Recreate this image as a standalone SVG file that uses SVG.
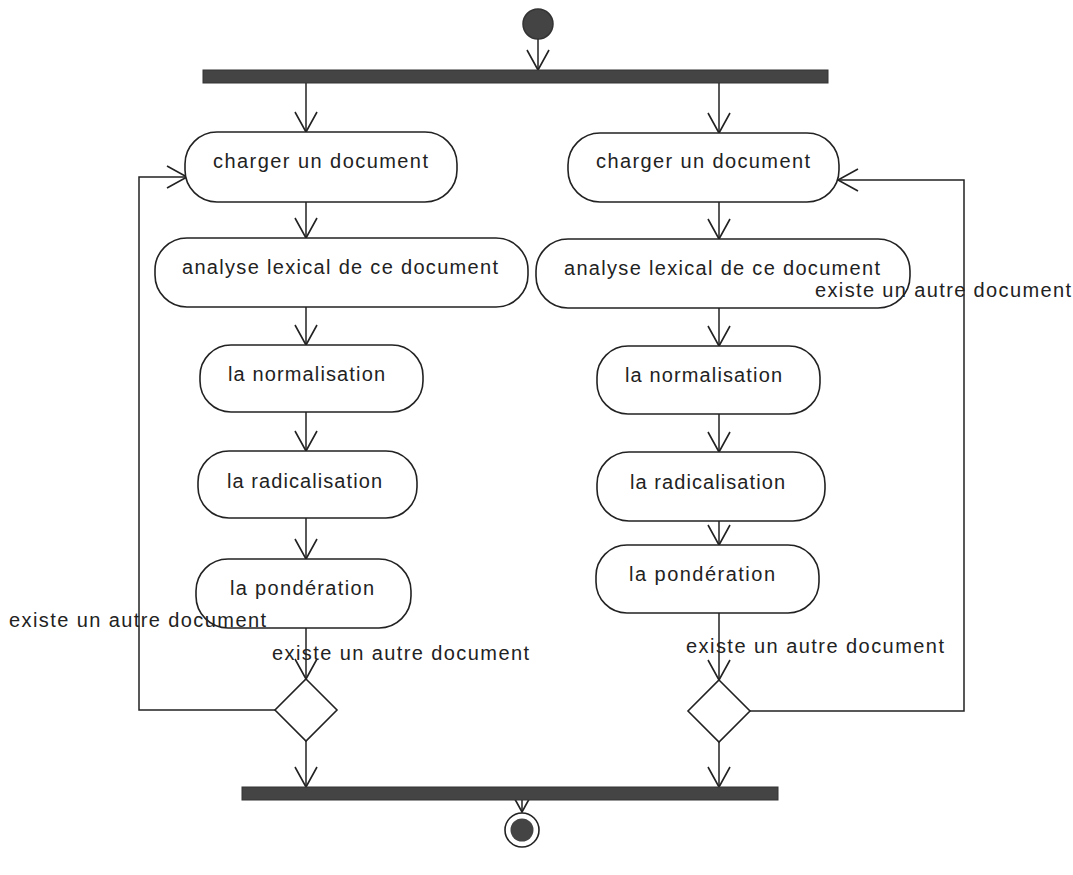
<svg xmlns="http://www.w3.org/2000/svg" width="1073" height="875" viewBox="0 0 1073 875">
<style>
.node{fill:#fff;stroke:#222;stroke-width:1.6}
.bar{fill:#444;stroke:#333;stroke-width:1}
.t{font-family:"Liberation Sans",Arial,sans-serif;font-size:20px;fill:#222}
.c{fill:none;stroke:#222;stroke-width:1.5}
.ca{fill:none;stroke:#222;stroke-width:1.5;marker-end:url(#arr)}
</style>
<defs>
<marker id="arr" viewBox="-24 -14 26 28" refX="0" refY="0" markerWidth="26" markerHeight="28" markerUnits="userSpaceOnUse" orient="auto" overflow="visible">
<path d="M-20,-11 L0,0 L-20,11" fill="none" stroke="#222" stroke-width="1.6"/>
</marker>
</defs>
<rect width="1073" height="875" fill="#fff"/>

<g id="connectors">
<path class="ca" d="M538,39 V70"/>
<path class="ca" d="M306,83 V132"/>
<path class="ca" d="M719,83 V133"/>
<path class="ca" d="M306,202 V238"/>
<path class="ca" d="M306,307 V345"/>
<path class="ca" d="M306,412 V451"/>
<path class="ca" d="M306,518 V559"/>
<path class="ca" d="M306,628 V679"/>
<path class="ca" d="M275,710 H139 V177 H187"/>
<path class="ca" d="M306,741 V787"/>
<path class="ca" d="M719,202 V239"/>
<path class="ca" d="M719,308 V346"/>
<path class="ca" d="M719,414 V452"/>
<path class="ca" d="M719,521 V545"/>
<path class="ca" d="M719,613 V680"/>
<path class="ca" d="M750,711 H964 V180 H838"/>
<path class="ca" d="M719,742 V787"/>
<path class="ca" d="M522,800 V812"/>
</g>

<g id="start"><circle cx="538" cy="24" r="15" fill="#444" stroke="#333" stroke-width="1.5"/></g>
<g id="fork"><rect class="bar" x="203" y="70" width="625" height="13"/></g>
<g id="join"><rect class="bar" x="242" y="787" width="536" height="13"/></g>
<g id="end"><circle cx="522" cy="830" r="17" fill="#fff" stroke="#222" stroke-width="1.6"/><circle cx="522" cy="830" r="11.5" fill="#444"/></g>

<g id="L1"><rect class="node" x="185" y="132" width="272" height="70" rx="32" ry="32"/><text class="t" x="213" y="168" textLength="215" lengthAdjust="spacing">charger un document</text></g>
<g id="L2"><rect class="node" x="155" y="238" width="373" height="69" rx="32" ry="32"/><text class="t" x="182" y="274" textLength="316" lengthAdjust="spacing">analyse lexical de ce document</text></g>
<g id="L3"><rect class="node" x="200" y="345" width="223" height="67" rx="31" ry="31"/><text class="t" x="228" y="381" textLength="157" lengthAdjust="spacing">la normalisation</text></g>
<g id="L4"><rect class="node" x="198" y="451" width="219" height="67" rx="31" ry="31"/><text class="t" x="227" y="488" textLength="155" lengthAdjust="spacing">la radicalisation</text></g>
<g id="L5"><rect class="node" x="196" y="559" width="215" height="69" rx="32" ry="32"/><text class="t" x="230" y="595" textLength="144" lengthAdjust="spacing">la pondération</text></g>
<g id="DL"><polygon class="node" points="306,679 337,710 306,741 275,710"/></g>

<g id="R1"><rect class="node" x="568" y="133" width="271" height="69" rx="32" ry="32"/><text class="t" x="596" y="168" textLength="214" lengthAdjust="spacing">charger un document</text></g>
<g id="R2"><rect class="node" x="536" y="239" width="374" height="69" rx="32" ry="32"/><text class="t" x="564" y="275" textLength="316" lengthAdjust="spacing">analyse lexical de ce document</text></g>
<g id="R3"><rect class="node" x="597" y="346" width="223" height="68" rx="31" ry="31"/><text class="t" x="625" y="382" textLength="157" lengthAdjust="spacing">la normalisation</text></g>
<g id="R4"><rect class="node" x="597" y="452" width="228" height="69" rx="32" ry="32"/><text class="t" x="630" y="489" textLength="155" lengthAdjust="spacing">la radicalisation</text></g>
<g id="R5"><rect class="node" x="596" y="545" width="223" height="68" rx="31" ry="31"/><text class="t" x="629" y="581" textLength="146" lengthAdjust="spacing">la pondération</text></g>
<g id="DR"><polygon class="node" points="719,680 750,711 719,742 688,711"/></g>

<g id="labels">
<text class="t" x="9" y="627" textLength="257" lengthAdjust="spacing">existe un autre document</text>
<text class="t" x="272" y="660" textLength="257" lengthAdjust="spacing">existe un autre document</text>
<text class="t" x="815" y="297" textLength="256" lengthAdjust="spacing">existe un autre document</text>
<text class="t" x="686" y="653" textLength="258" lengthAdjust="spacing">existe un autre document</text>
</g>
</svg>
